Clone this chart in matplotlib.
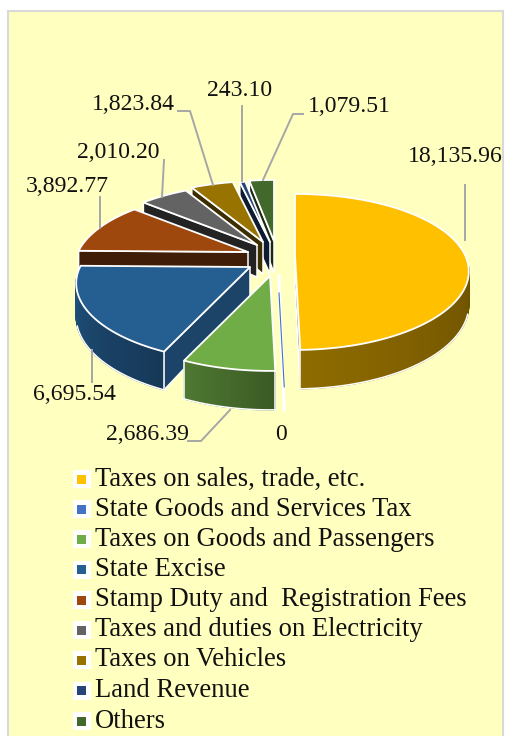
import numpy as np
import matplotlib
matplotlib.use("Agg")
import matplotlib.pyplot as plt
from matplotlib.colors import to_rgb
from matplotlib.patches import Polygon, Rectangle

categories = ["Taxes on sales, trade, etc.", "State Goods and Services Tax",
              "Taxes on Goods and Passengers", "State Excise",
              "Stamp Duty and  Registration Fees", "Taxes and duties on Electricity",
              "Taxes on Vehicles", "Land Revenue", "Others"]
values = [18135.96, 0, 2686.39, 6695.54, 3892.77, 2010.20, 1823.84, 243.10, 1079.51]
value_labels = ["18,135.96", "0", "2,686.39", "6,695.54", "3,892.77", "2,010.20",
                "1,823.84", "243.10", "1,079.51"]
colors = ["#FFC000", "#4472C4", "#70AD47", "#255E91", "#9E480E", "#636363",
          "#997300", "#264478", "#43682B"]

# apex of each exploded slice, in picture pixels
APEX = [(295, 255), (279, 276), (270, 276), (250, 267), (248, 252), (257, 245),
        (263, 242), (270, 242), (274, 241)]
LABEL_POS = [(455, 156), (281, 434), (148, 434), (74, 395), (67, 186), (118, 153),
             (133, 105), (240, 91), (349, 107)]
LEADERS = [[(465, 185), (465, 240)], None, [(188, 441), (201, 441), (230, 410)],
           [(92, 350), (92, 382)], [(100, 197), (100, 228)], [(164, 160), (162, 197)],
           [(178, 111), (190, 111), (213, 185)], [(242, 106), (242, 181)],
           [(303, 114), (293, 114), (263, 180)]]
LEGEND_Y = [479, 509, 539, 569.5, 600, 630, 660, 690.5, 721]
RX, RY, PERSP, DEPTH = 170, 78, 0.217, 32
FONT = "Liberation Serif"


def project(apex, deg):
    t = np.radians(deg)
    u, v = np.sin(t), -np.cos(t)
    s = 1 + PERSP * v
    return apex[0] + u * RX * s, apex[1] + v * RY * s, s


def shade(col, f):
    return tuple(c * f for c in to_rgb(col))


def draw_slice(ax, col, apex, a0, a1, z, cut_end=False, wall=(0.6, 0.6), cut=0.4):
    degs = np.linspace(a0, a1, max(int(a1 - a0) * 2, 2))
    pts = [project(apex, d) for d in degs]
    # radial cut face
    x, y, s = pts[-1] if cut_end else pts[0]
    face = [apex, (x, y), (x, y + DEPTH * s), (apex[0], apex[1] + DEPTH)]
    ax.add_patch(Polygon(face, fc=shade(col, cut), ec="white", lw=1.1, zorder=z))
    # outer wall, shaded strip by strip
    front = [p for p, d in zip(pts, degs) if np.cos(np.radians(d)) < -0.12]
    for i in range(len(front) - 1):
        p, q = front[i], front[i + 1]
        f = wall[0] + (wall[1] - wall[0]) * i / max(len(front) - 2, 1)
        ax.add_patch(Polygon([p[:2], q[:2], (q[0], q[1] + DEPTH * q[2]), (p[0], p[1] + DEPTH * p[2])],
                             fc=shade(col, f), ec=shade(col, f), lw=0.9, zorder=z))
    low = [(p[0], p[1] + DEPTH * p[2]) for p, d in zip(pts, degs) if np.cos(np.radians(d)) < -0.3]
    if low:
        ax.plot(*zip(*low), color="white", lw=1.1, zorder=z + 0.1)
        for p in (pts[0], pts[-1]):
            if any(p is q for q in front):
                ax.plot([p[0], p[0]], [p[1], p[1] + DEPTH * p[2]], color="white", lw=1.1, zorder=z + 0.1)
    top = [apex] + [p[:2] for p in pts]
    ax.add_patch(Polygon(top, fc=col, ec="white", lw=1.3, joinstyle="round", zorder=z + 0.2))


fig = plt.figure(figsize=(5.06, 7.36), dpi=100, facecolor="white")
ax = fig.add_axes([0, 0, 1, 1])
ax.set_xlim(0, 506)
ax.set_ylim(736, 0)
ax.axis("off")
ax.add_patch(Rectangle((8, 11), 495, 740, fc="#FFFFBF", ec="#D9D9D9", lw=1.5, zorder=0))

shares = np.cumsum([0] + values) / sum(values) * 360
# back slices first so the front ones cover them
walls = {0: (0.42, 0.56), 2: (0.52, 0.7), 3: (0.6, 0.85)}
cuts = {3: 0.72, 5: 0.35}
order = [8, 7, 6, 5, 4, 3, 2, 0]
for z, i in enumerate(order):
    draw_slice(ax, colors[i], APEX[i], shares[i], shares[i + 1], 2 + z,
               cut_end=(i == 0), wall=walls.get(i, (0.6, 0.6)), cut=cuts.get(i, 0.4))

# the zero slice shows only as a sliver
x0, y0, s0 = project(APEX[1], shares[1])
ax.plot([APEX[1][0], x0], [APEX[1][1], y0 + DEPTH * s0], color="white", lw=2.2, zorder=11)
ax.plot([APEX[1][0], x0], [APEX[1][1] + 17, y0 + 16], color=colors[1], lw=0.8, zorder=11.1)

for path in LEADERS:
    if path:
        ax.plot(*zip(*path), color="#A6A6A6", lw=1.4, zorder=12)
for txt, (x, y) in zip(value_labels, LABEL_POS):
    ax.text(x, y, txt, family=FONT, fontsize=17.1, color="#111111", ha="center", va="center", zorder=13)

for name, col, y in zip(categories, colors, LEGEND_Y):
    ax.add_patch(Rectangle((73, y - 9), 18, 18, fc="white", ec="none", zorder=12))
    ax.add_patch(Rectangle((77.5, y - 4.5), 9, 9, fc=col, ec="none", zorder=13))
    ax.text(95, y, name, family=FONT, fontsize=19.2, color="#111111", ha="left", va="center", zorder=13)

fig.savefig("out.png", dpi=100)
